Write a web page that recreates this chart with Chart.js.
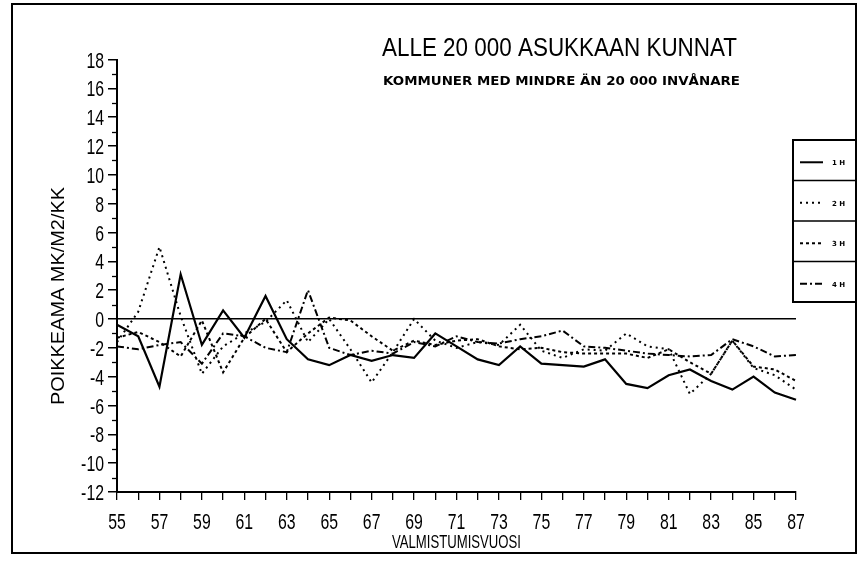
<!DOCTYPE html>
<html><head><meta charset="utf-8">
<script src="https://cdn.jsdelivr.net/npm/chart.js@4"></script>
<style>html,body{margin:0;padding:0;background:#fff}canvas{display:block}</style>
</head><body>
<canvas id="c" width="862" height="565"></canvas>
<script>
const years = [55,56,57,58,59,60,61,62,63,64,65,66,67,68,69,70,71,72,73,74,75,76,77,78,79,80,81,82,83,84,85,86,87];
const seriesNames = ['1 H','2 H','3 H','4 H'];
const h1 = [-0.4,-1.2,-4.7,3.1,-1.8,0.6,-1.3,1.6,-1.4,-2.8,-3.2,-2.5,-2.9,-2.5,-2.7,-1.0,-1.9,-2.8,-3.2,-1.9,-3.1,-3.2,-3.3,-2.8,-4.5,-4.8,-3.9,-3.5,-4.3,-4.9,-4.0,-5.1,-5.6];
const h2 = [-1.6,0.5,5.0,0.2,-3.8,-1.9,-1.0,-0.2,1.3,-1.6,0.0,-2.1,-4.4,-2.3,0.0,-1.5,-2.0,-1.6,-1.8,-0.4,-2.2,-2.7,-2.1,-2.2,-1.0,-1.9,-2.1,-5.2,-3.8,-1.5,-3.4,-3.9,-4.9];
const h3 = [-1.3,-0.9,-1.6,-2.6,-0.1,-3.7,-1.3,0.0,-2.3,-1.0,0.1,-0.1,-1.2,-2.2,-1.5,-1.8,-1.5,-1.4,-1.9,-2.1,-2.0,-2.3,-2.4,-2.4,-2.4,-2.7,-2.1,-3.0,-3.8,-1.5,-3.3,-3.5,-4.3];
const h4 = [-1.9,-2.1,-1.8,-1.6,-3.1,-1.0,-1.2,-2.0,-2.3,2.0,-2.0,-2.5,-2.2,-2.4,-1.6,-1.9,-1.2,-1.6,-1.7,-1.4,-1.2,-0.8,-1.9,-2.0,-2.2,-2.4,-2.5,-2.6,-2.5,-1.4,-1.9,-2.6,-2.5];
const yMin = -12, yMax = 18;
const titleText = 'ALLE 20 000 ASUKKAAN KUNNAT';
const subtitleText = 'KOMMUNER MED MINDRE ÄN 20 000 INVÅNARE';
const yTitle = 'POIKKEAMA MK/M2/KK';
const xTitle = 'VALMISTUMISVUOSI';

const NARROW = "'Liberation Sans','Arial',sans-serif";
const SQUEEZE = 0.72;

function fitText(ctx, txt, x, y, w, font, rot) {
  ctx.save();
  ctx.font = font;
  ctx.fillStyle = '#000';
  ctx.textAlign = 'left';
  ctx.textBaseline = 'alphabetic';
  const m = ctx.measureText(txt).width;
  ctx.translate(x, y);
  if (rot) ctx.rotate(rot);
  ctx.scale(w / m, 1);
  ctx.fillText(txt, 0, 0);
  ctx.restore();
}

function squeezeText(ctx, txt, x, y, align, baseline, font) {
  ctx.save();
  ctx.font = font;
  ctx.fillStyle = '#000';
  ctx.textAlign = align;
  ctx.textBaseline = baseline;
  ctx.translate(x, y);
  ctx.scale(SQUEEZE, 1);
  ctx.fillText(txt, 0, 0);
  ctx.restore();
}

const decor = {
  id: 'decor',
  afterDraw(chart) {
    const ctx = chart.ctx;
    const ys = chart.scales.y;
    const xs = chart.scales.x;
    const area = chart.chartArea;
    // minor y ticks
    ctx.save();
    ctx.strokeStyle = '#000';
    ctx.lineWidth = 1.3;
    for (let v = yMin + 1; v < yMax; v += 2) {
      const py = Math.round(ys.getPixelForValue(v)) + 0.5;
      ctx.beginPath(); ctx.moveTo(area.left - 5, py); ctx.lineTo(area.left, py); ctx.stroke();
    }
    ctx.restore();
    // tick labels (condensed)
    ys.ticks.forEach((t) => {
      const py = ys.getPixelForValue(t.value);
      squeezeText(ctx, String(t.value), area.left - 13, py + 8, 'right', 'alphabetic', '22px ' + NARROW);
    });
    xs.ticks.forEach((t, i) => {
      const yr = years[t.value];
      if (yr % 2 !== 1) return;
      const px = xs.getPixelForTick(i);
      squeezeText(ctx, String(yr), px, 529, 'center', 'alphabetic', '22px ' + NARROW);
    });
    // titles
    fitText(ctx, titleText, 382, 56, 355, '25px ' + NARROW);
    fitText(ctx, subtitleText, 383, 85, 357, 'bold 12px "DejaVu Sans",sans-serif');
    fitText(ctx, yTitle, 64, 405, 218, '19px ' + NARROW, -Math.PI / 2);
    fitText(ctx, xTitle, 392, 548, 129, '18px ' + NARROW);
    // legend
    ctx.save();
    ctx.strokeStyle = '#000';
    ctx.lineWidth = 2;
    const lx = 793, lw = 63, top = 140, ch = 40.5;
    ctx.strokeRect(lx, top, lw, ch * 4);
    chart.data.datasets.forEach((ds, i) => {
      const t = top + i * ch;
      if (i > 0) { ctx.beginPath(); ctx.moveTo(lx, t); ctx.lineTo(lx + lw, t); ctx.lineWidth = 1.5; ctx.stroke(); }
      const ly = t + ch * 0.55;
      ctx.save();
      ctx.setLineDash(ds.borderDash || []);
      ctx.lineWidth = 2;
      ctx.beginPath(); ctx.moveTo(800, ly); ctx.lineTo(823, ly); ctx.stroke();
      ctx.restore();
      ctx.save();
      ctx.font = 'bold 7px "DejaVu Sans",sans-serif';
      ctx.fillStyle = '#000';
      ctx.textBaseline = 'middle';
      ctx.fillText(ds.label, 832, ly + 1);
      ctx.restore();
    });
    // frame
    ctx.lineWidth = 2;
    ctx.strokeRect(12, 4, 844, 549);
    ctx.restore();
  }
};

new Chart(document.getElementById('c'), {
  type: 'line',
  data: {
    labels: years,
    datasets: [
      { label: seriesNames[0], data: h1, borderColor: '#000', borderWidth: 2.2, pointRadius: 0, tension: 0 },
      { label: seriesNames[1], data: h2, borderColor: '#000', borderWidth: 2, borderDash: [2, 4], pointRadius: 0, tension: 0 },
      { label: seriesNames[2], data: h3, borderColor: '#000', borderWidth: 2, borderDash: [3, 3], pointRadius: 0, tension: 0 },
      { label: seriesNames[3], data: h4, borderColor: '#000', borderWidth: 2, borderDash: [7, 3, 2, 3], pointRadius: 0, tension: 0 }
    ]
  },
  options: {
    responsive: false,
    animation: false,
    devicePixelRatio: 1,
    layout: { padding: { left: 0, top: 59.5, right: 66, bottom: 0 } },
    plugins: { legend: { display: false }, tooltip: { enabled: false }, title: { display: false } },
    scales: {
      x: {
        type: 'category',
        offset: false,
        afterFit(s) { s.height = 73; },
        grid: { display: true, drawOnChartArea: false, tickLength: 8, color: '#000', tickColor: '#000', lineWidth: 1.3 },
        border: { display: true, color: '#000', width: 2 },
        ticks: {
          autoSkip: false, maxRotation: 0, padding: 6, color: 'rgba(0,0,0,0)',
          font: { family: NARROW, size: 12 },
          callback(v, i) { return String(years[i]); }
        }
      },
      y: {
        min: yMin, max: yMax,
        afterFit(s) { s.width = 117; },
        grid: {
          display: true, drawOnChartArea: true, tickLength: 9,
          color: (c) => (c.tick && c.tick.value === 0 ? '#000' : 'rgba(0,0,0,0)'),
          tickColor: '#000', lineWidth: 1.5
        },
        border: { display: true, color: '#000', width: 2 },
        ticks: {
          autoSkip: false, stepSize: 2, padding: 2, color: 'rgba(0,0,0,0)',
          font: { family: NARROW, size: 10 },
          callback(v) { return String(v); }
        }
      }
    }
  },
  plugins: [decor]
});
</script>
</body></html>
